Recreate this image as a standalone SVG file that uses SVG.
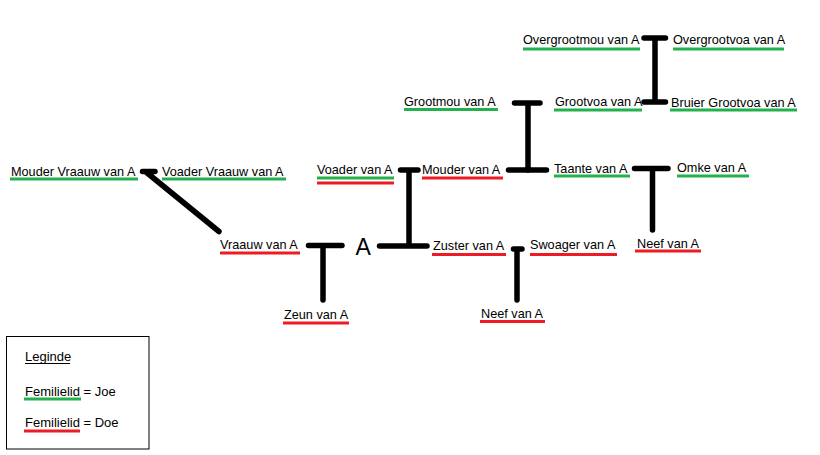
<svg xmlns="http://www.w3.org/2000/svg" width="820" height="455" viewBox="0 0 820 455">
<style>
  text { font-family: "Liberation Sans", Arial, sans-serif; font-size: 12.7px; fill: #000; }
  .big { font-size: 23px; }
  .leg { font-size: 13px; }
  .g { stroke: #22b14c; stroke-width: 3; fill: none; }
  .r { stroke: #ed1c24; stroke-width: 3; fill: none; }
  .k { stroke: #000; stroke-width: 1; fill: none; }
  .c { stroke: #000; stroke-width: 5.5; stroke-linecap: round; fill: none; }
</style>
<rect width="820" height="455" fill="#fff"/>

<g id="connectors">
  <path class="c" d="M644,38 H665.5 M655,38 V102 M644,102 H665.5"/>
  <path class="c" d="M514.5,103 H540 M528,103 V170"/>
  <path class="c" d="M508.5,170 H546.5"/>
  <path class="c" d="M400.5,170 H418 M409,170 V246 M379.5,246 H427"/>
  <path class="c" d="M308.5,245.5 H342 M323,245.5 V300"/>
  <path class="c" d="M142.5,171.5 H155 M146,172 L219,231.5"/>
  <path class="c" d="M634.5,168.5 H668 M652.5,168.5 V230"/>
  <path class="c" d="M513.5,249 H522 M517,249 V300"/>
</g>

<g id="overgrootmou">
  <text x="523" y="44">Overgrootmou van A</text>
  <line class="g" x1="523" y1="49" x2="640" y2="49"/>
</g>
<g id="overgrootvoa">
  <text x="673" y="43.5">Overgrootvoa van A</text>
  <line class="g" x1="673" y1="49" x2="784" y2="49"/>
</g>
<g id="grootmou">
  <text x="404" y="106">Grootmou van A</text>
  <line class="g" x1="404" y1="109.5" x2="498" y2="109.5"/>
</g>
<g id="grootvoa">
  <text x="555" y="106">Grootvoa van A</text>
  <line class="g" x1="554" y1="110" x2="642" y2="110"/>
</g>
<g id="bruier-grootvoa">
  <text x="671" y="107">Bruier Grootvoa van A</text>
  <line class="g" x1="670" y1="110" x2="797" y2="110"/>
</g>
<g id="mouder-vraauw">
  <text x="11" y="176">Mouder Vraauw van A</text>
  <line class="g" x1="10" y1="179" x2="138" y2="179"/>
</g>
<g id="voader-vraauw">
  <text x="162" y="176">Voader Vraauw van A</text>
  <line class="g" x1="162" y1="179" x2="286" y2="179"/>
</g>
<g id="voader">
  <text x="317" y="174">Voader van A</text>
  <line class="g" x1="317" y1="178" x2="394" y2="178"/>
  <line class="r" x1="317" y1="183" x2="394" y2="183"/>
</g>
<g id="mouder">
  <text x="422" y="174">Mouder van A</text>
  <line class="r" x1="422" y1="178" x2="503" y2="178"/>
</g>
<g id="taante">
  <text x="554" y="173">Taante van A</text>
  <line class="g" x1="554" y1="176" x2="630" y2="176"/>
</g>
<g id="omke">
  <text x="677" y="172">Omke van A</text>
  <line class="g" x1="677" y1="176" x2="749" y2="176"/>
</g>
<g id="vraauw">
  <text x="220" y="249">Vraauw van A</text>
  <line class="r" x1="220" y1="253" x2="300" y2="253"/>
</g>
<g id="a">
  <text class="big" x="355.5" y="255">A</text>
</g>
<g id="zuster">
  <text x="433" y="249.5">Zuster van A</text>
  <line class="r" x1="432" y1="254.5" x2="506" y2="254.5"/>
</g>
<g id="swoager">
  <text x="530" y="248.5">Swoager van A</text>
  <line class="r" x1="530" y1="254.5" x2="617" y2="254.5"/>
</g>
<g id="neef-taante">
  <text x="637" y="248">Neef van A</text>
  <line class="r" x1="635" y1="251" x2="701" y2="251"/>
</g>
<g id="zeun">
  <text x="284" y="319">Zeun van A</text>
  <line class="r" x1="283" y1="323" x2="349" y2="323"/>
</g>
<g id="neef-zuster">
  <text x="481" y="318">Neef van A</text>
  <line class="r" x1="480" y1="321.5" x2="545" y2="321.5"/>
</g>

<g id="legend">
  <rect x="6.5" y="336.5" width="142.5" height="112.5" fill="none" stroke="#000" stroke-width="1"/>
  <text class="leg" x="25" y="361">Leginde</text>
  <line class="k" x1="25" y1="363.5" x2="70" y2="363.5"/>
  <text class="leg" x="25" y="396">Femilielid = Joe</text>
  <line class="g" x1="24" y1="399" x2="81" y2="399"/>
  <text class="leg" x="25" y="427">Femilielid = Doe</text>
  <line class="r" x1="24" y1="431" x2="80" y2="431"/>
</g>
</svg>
